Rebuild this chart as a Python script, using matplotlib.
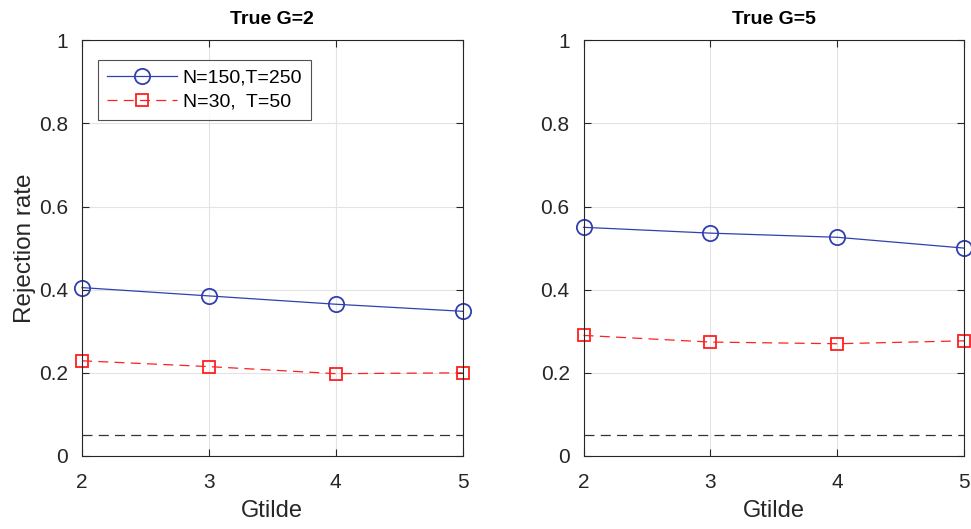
import numpy as np
import matplotlib.pyplot as plt

plt.rcParams['font.family'] = ['Liberation Sans', 'DejaVu Sans']

gtilde = [2, 3, 4, 5]
titles = ['True G=2', 'True G=5']
big_sample = [[0.405, 0.385, 0.365, 0.348],
              [0.550, 0.536, 0.526, 0.500]]
small_sample = [[0.229, 0.215, 0.198, 0.200],
                [0.290, 0.274, 0.270, 0.277]]
nominal = 0.05
labels = ['N=150,T=250', 'N=30,  T=50']
yticks = [0, 0.2, 0.4, 0.6, 0.8, 1]
ytick_labels = ['0', '0.2', '0.4', '0.6', '0.8', '1']

axcol = '#262626'
blue = '#3040b0'
red = '#ff2020'

fig = plt.figure(figsize=(9.71, 5.29), dpi=100)
positions = [[0.0845, 0.138, 0.392, 0.786], [0.601, 0.138, 0.392, 0.786]]

for k in range(2):
    ax = fig.add_axes(positions[k])
    ax.plot(gtilde, big_sample[k], '-', color=blue, lw=0.9, marker='o',
            ms=11, mfc='none', mew=1.3, label=labels[0])
    ax.plot(gtilde, small_sample[k], '--', color=red, lw=0.9, marker='s',
            ms=8.5, mfc='none', mew=1.3, dashes=(8, 5), label=labels[1])
    ax.plot([gtilde[0], gtilde[-1]], [nominal, nominal], '--', color='#333333',
            lw=0.9, dashes=(8, 5))
    ax.set_xlim(2, 5)
    ax.set_ylim(0, 1)
    ax.set_xticks(gtilde)
    ax.set_yticks(yticks)
    ax.set_yticklabels(ytick_labels)
    ax.grid(True, color='#e3e3e3', lw=0.8)
    ax.set_axisbelow(True)
    for s in ax.spines.values():
        s.set_color(axcol)
        s.set_linewidth(0.8)
    ax.tick_params(direction='in', top=True, right=True, length=5,
                   colors=axcol, labelsize=15)
    ax.tick_params(axis='x', pad=12)
    ax.tick_params(axis='y', pad=10)
    ax.set_title(titles[k], fontsize=14, fontweight='bold', pad=12)
    ax.set_xlabel('Gtilde', fontsize=17, color=axcol, labelpad=6)
    for m in ax.lines[:2]:
        m.set_clip_on(False)
    if k == 0:
        ax.set_ylabel('Rejection rate', fontsize=17.5, color=axcol, labelpad=2)
        leg = ax.legend(loc='upper left', bbox_to_anchor=(0.042, 0.952),
                        fontsize=14, handlelength=3.6, frameon=True,
                        fancybox=False, edgecolor=axcol, borderpad=0.45,
                        labelspacing=0.35, handletextpad=0.3,
                        borderaxespad=0)
        leg.get_frame().set_linewidth(0.8)

fig.savefig('out.png', dpi=100)
